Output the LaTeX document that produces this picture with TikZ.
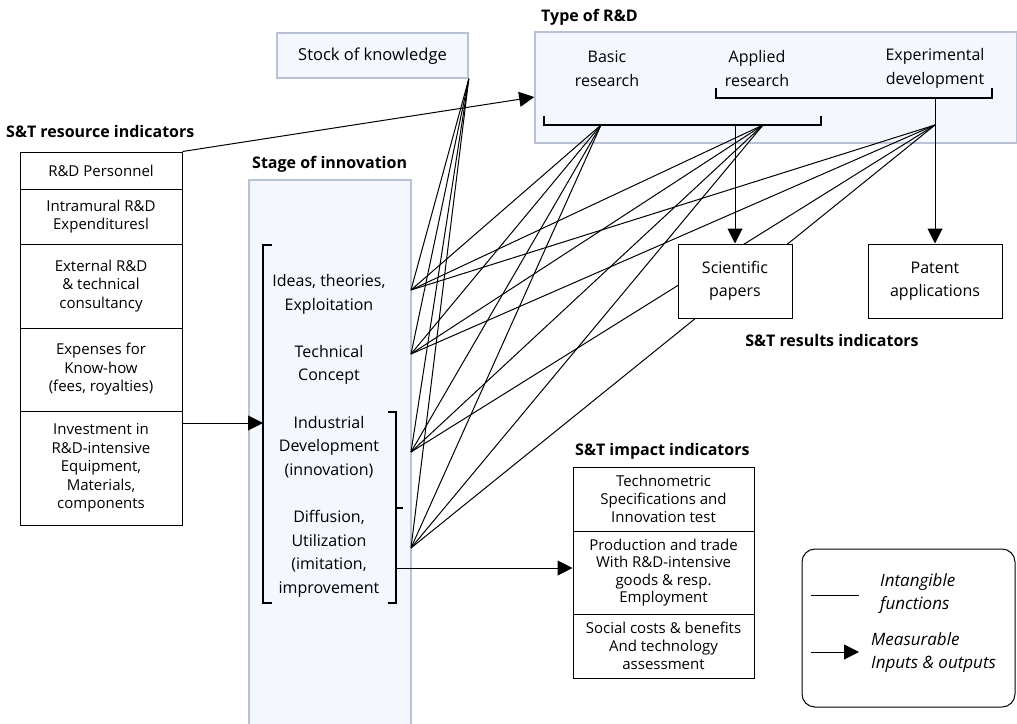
\documentclass[tikz,border=0pt]{standalone}
\usepackage{fontspec}
\setmainfont{Open Sans}
\usetikzlibrary{arrows.meta}
\definecolor{panelfill}{RGB}{244,247,253}
\definecolor{panelline}{RGB}{184,194,212}
\begin{document}
\begin{tikzpicture}[x=1pt,y=-1pt,
  every node/.style={inner sep=0pt, align=center, font=\fontsize{15}{18.5}\selectfont},
  cell/.style={draw, line width=1pt, fill=white},
  panel/.style={draw=panelline, line width=1.6pt, fill=panelfill},
  title/.style={font=\fontsize{16}{19}\selectfont\bfseries},
  big/.style={font=\fontsize{16}{23.5}\selectfont},
  conn/.style={line width=1pt},
  arr/.style={line width=1pt, -{Triangle[length=15pt,width=15pt]}},
  brk/.style={line width=1.1pt}]
\useasboundingbox (0,0) rectangle (1017,723);
\clip (0,0) rectangle (1017,723);

% panels
\node[panel, minimum width=191pt, minimum height=45pt] (stock) at (372.5,55.5) {};
\node[font=\fontsize{16.5}{20}\selectfont] (stocktxt) at (372.5,56) {Stock of knowledge};
\node[panel, minimum width=482pt, minimum height=111pt] (type) at (776,87.5) {};
\node[panel, minimum width=162pt, minimum height=560pt] (stage) at (330,460) {};

% titles
\node[title, anchor=west] (ttype) at (541,17) {Type of R\&D};
\node[title, anchor=west] (tres) at (6,131) {S\&T resource indicators};
\node[title, anchor=west] (tstage) at (252,164) {Stage of innovation};
\node[title] (tresults) at (832,340) {S\&T results indicators};
\node[title, anchor=west] (timpact) at (575,451) {S\&T impact indicators};

% type of R&D texts
\node[big] (basic) at (607,68.5) {Basic\\research};
\node[big] (applied) at (757,68.5) {Applied\\research};
\node[big] (exper) at (935,68.5) {Experimental\\development};

% type brackets
\draw[brk] (544,116) -- (544,125) -- (821,125) -- (821,116);
\draw[brk] (716,88) -- (716,98) -- (992,98) -- (992,88);
\coordinate (B) at (601,125);
\coordinate (A) at (763,125);
\coordinate (E) at (935,125);
\coordinate (Abr) at (735,125);
\coordinate (Ebr) at (935,98);

% stage texts
\node[big] (s1) at (329,294.5) {Ideas, theories,\\Exploitation};
\node[big] (s2) at (329,365) {Technical\\Concept};
\node[big] (s3) at (329,447) {Industrial\\Development\\(innovation)};
\node[big] (s4) at (329,554) {Diffusion,\\Utilization\\(imitation,\\improvement};

% stage brackets
\draw[brk] (272,245) -- (263,245) -- (263,603) -- (272,603);
\draw[brk] (388,412) -- (396,412) -- (396,603) -- (388,603);
\draw[brk] (396,508) -- (403,508);
\coordinate (Lbr) at (263,423);
\coordinate (Rbr) at (396,568);

\coordinate (I1) at (411,290);
\coordinate (I2) at (411,354);
\coordinate (I3) at (411,452);
\coordinate (I4) at (411,548);

% intangible connectors
\foreach \t in {I1,I2,I3,I4}{
  \draw[conn] (stock.south east) -- (\t);
  \draw[conn] (B) -- (\t);
  \draw[conn] (A) -- (\t);
  \draw[conn] (E) -- (\t);
}

% results boxes
\node[cell, minimum width=114pt, minimum height=74pt, big] (sci) at (735,281) {Scientific\\papers};
\node[cell, minimum width=134pt, minimum height=74pt, big] (pat) at (935,281) {Patent\\applications};

% resource boxes
\node[cell, minimum width=162pt, minimum height=37pt] (r1) at (101,170.5) {R\&D Personnel};
\node[cell, minimum width=162pt, minimum height=55pt] (r2) at (101,216.5) {Intramural R\&D\\Expendituresl};
\node[cell, minimum width=162pt, minimum height=84pt] (r3) at (101,286) {External R\&D\\\& technical\\consultancy};
\node[cell, minimum width=162pt, minimum height=83pt] (r4) at (101,369.5) {Expenses for\\Know-how\\(fees, royalties)};
\node[cell, minimum width=162pt, minimum height=114pt] (r5) at (101,468) {Investment in\\R\&D-intensive\\Equipment,\\Materials,\\components};

% impact boxes
\node[cell, minimum width=181pt, minimum height=64pt, font=\fontsize{15}{18}\selectfont] (p1) at (663.5,499) {Technometric\\Specifications and\\Innovation test};
\node[cell, minimum width=181pt, minimum height=83pt, font=\fontsize{15}{17.5}\selectfont] (p2) at (663.5,572.5) {Production and trade\\With R\&D-intensive\\goods \& resp.\\Employment};
\node[cell, minimum width=181pt, minimum height=64pt, font=\fontsize{15}{18}\selectfont] (p3) at (663.5,646) {Social costs \& benefits\\And technology\\assessment};

% measurable arrows
\draw[arr] (r1.north east) -- (type.west |- 0,97);
\draw[arr] (r5.east |- Lbr) -- (Lbr);
\draw[arr] (Rbr) -- (p2.west |- Rbr);
\draw[arr] (Abr) -- (sci.north);
\draw[arr] (Ebr) -- (pat.north);

% legend
\node[draw, line width=1pt, rounded corners=13pt, minimum width=213pt, minimum height=158pt] (leg) at (908.5,628) {};
\coordinate (l1a) at (811,595);
\coordinate (l1b) at (859,595);
\coordinate (l2a) at (811,652);
\coordinate (l2b) at (859,652);
\draw[conn] (l1a) -- (l1b);
\draw[arr] (l2a) -- (l2b);
\node[anchor=west, align=left, font=\fontsize{17}{23}\selectfont\itshape] (leg1) at (880,593.5) {Intangible\\functions};
\node[anchor=west, align=left, font=\fontsize{17}{23}\selectfont\itshape] (leg2) at (871,653) {Measurable\\Inputs \& outputs};
\end{tikzpicture}
\end{document}
